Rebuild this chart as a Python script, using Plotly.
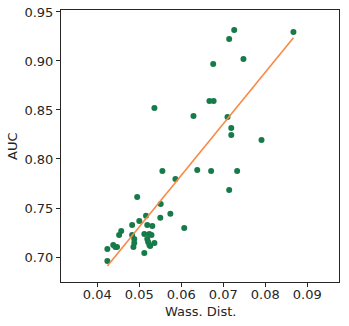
"""Scatter of AUC against Wasserstein distance with a linear fit."""
import numpy as np
import plotly.graph_objects as go

wass_dist = [
    0.0726, 0.0714, 0.0748, 0.0676, 0.0667, 0.0677, 0.0536, 0.0629, 0.0710,
    0.0719, 0.0719, 0.0791, 0.0867,
    0.0555, 0.0638, 0.0671, 0.0733, 0.0586, 0.0714, 0.0551, 0.0516, 0.0550,
    0.0574, 0.0607,
    0.0495, 0.0500, 0.0483, 0.0519, 0.0531, 0.0457, 0.0452, 0.0483, 0.0488,
    0.0512, 0.0524, 0.0529, 0.0519, 0.0488, 0.0486, 0.0521, 0.0524, 0.0526,
    0.0536, 0.0438, 0.0443, 0.0447, 0.0424, 0.0512, 0.0424,
]
auc = [
    0.9316, 0.9224, 0.9020, 0.8970, 0.8592, 0.8592, 0.8520, 0.8439, 0.8429,
    0.8316, 0.8245, 0.8194, 0.9296,
    0.7878, 0.7888, 0.7878, 0.7878, 0.7796, 0.7684, 0.7541, 0.7421, 0.7401,
    0.7442, 0.7296,
    0.7612, 0.7367, 0.7327, 0.7327, 0.7316, 0.7265, 0.7224, 0.7224, 0.7184,
    0.7235, 0.7235, 0.7224, 0.7184, 0.7143, 0.7102, 0.7153, 0.7122, 0.7112,
    0.7143, 0.7122, 0.7102, 0.7102, 0.7082, 0.7041, 0.6959,
]

x = np.array(wass_dist)
slope, intercept = np.polyfit(x, np.array(auc), 1)
fit_x = np.array([x.min(), x.max()])

INK = "#262626"

fig = go.Figure()
fig.add_trace(go.Scatter(x=wass_dist, y=auc, mode="markers",
                         marker=dict(color="#177a49", size=6,
                                     line=dict(width=0)),
                         showlegend=False))
fig.add_trace(go.Scatter(x=fit_x, y=slope * fit_x + intercept, mode="lines",
                         line=dict(color="#f98a45", width=1.6),
                         showlegend=False))

axis_style = dict(showline=True, linecolor=INK, linewidth=1, mirror=True,
                  ticks="outside", ticklen=4, tickwidth=1, tickcolor=INK,
                  showgrid=False, zeroline=False, automargin=False,
                  tickfont=dict(size=13, color=INK))
fig.update_xaxes(range=[0.03136, 0.09755],
                 tickvals=[0.04, 0.05, 0.06, 0.07, 0.08, 0.09],
                 tickformat=".2f", ticklabelstandoff=-4, **axis_style)
fig.update_yaxes(range=[0.6745, 0.952],
                 tickvals=[0.70, 0.75, 0.80, 0.85, 0.90, 0.95],
                 tickformat=".2f", **axis_style)

# axis titles as annotations so they sit where matplotlib put them
fig.add_annotation(text="Wass. Dist.", xref="paper", yref="paper", x=0.5, y=0,
                   xanchor="center", yanchor="middle", yshift=-29,
                   showarrow=False, font=dict(size=13, color=INK))
fig.add_annotation(text="AUC", xref="paper", yref="paper", x=0, y=0.5,
                   xanchor="center", yanchor="middle", xshift=-49,
                   textangle=-90, showarrow=False,
                   font=dict(size=13, color=INK))

fig.update_layout(width=349, height=326,
                  margin=dict(l=61, r=10, t=10, b=44),
                  plot_bgcolor="white", paper_bgcolor="white",
                  font=dict(family="DejaVu Sans"))
# page body has an 8px default margin; drop it so the figure fills the window
fig.write_html("out.html", config={"displayModeBar": False},
               post_script="document.body.style.margin = '0';")
